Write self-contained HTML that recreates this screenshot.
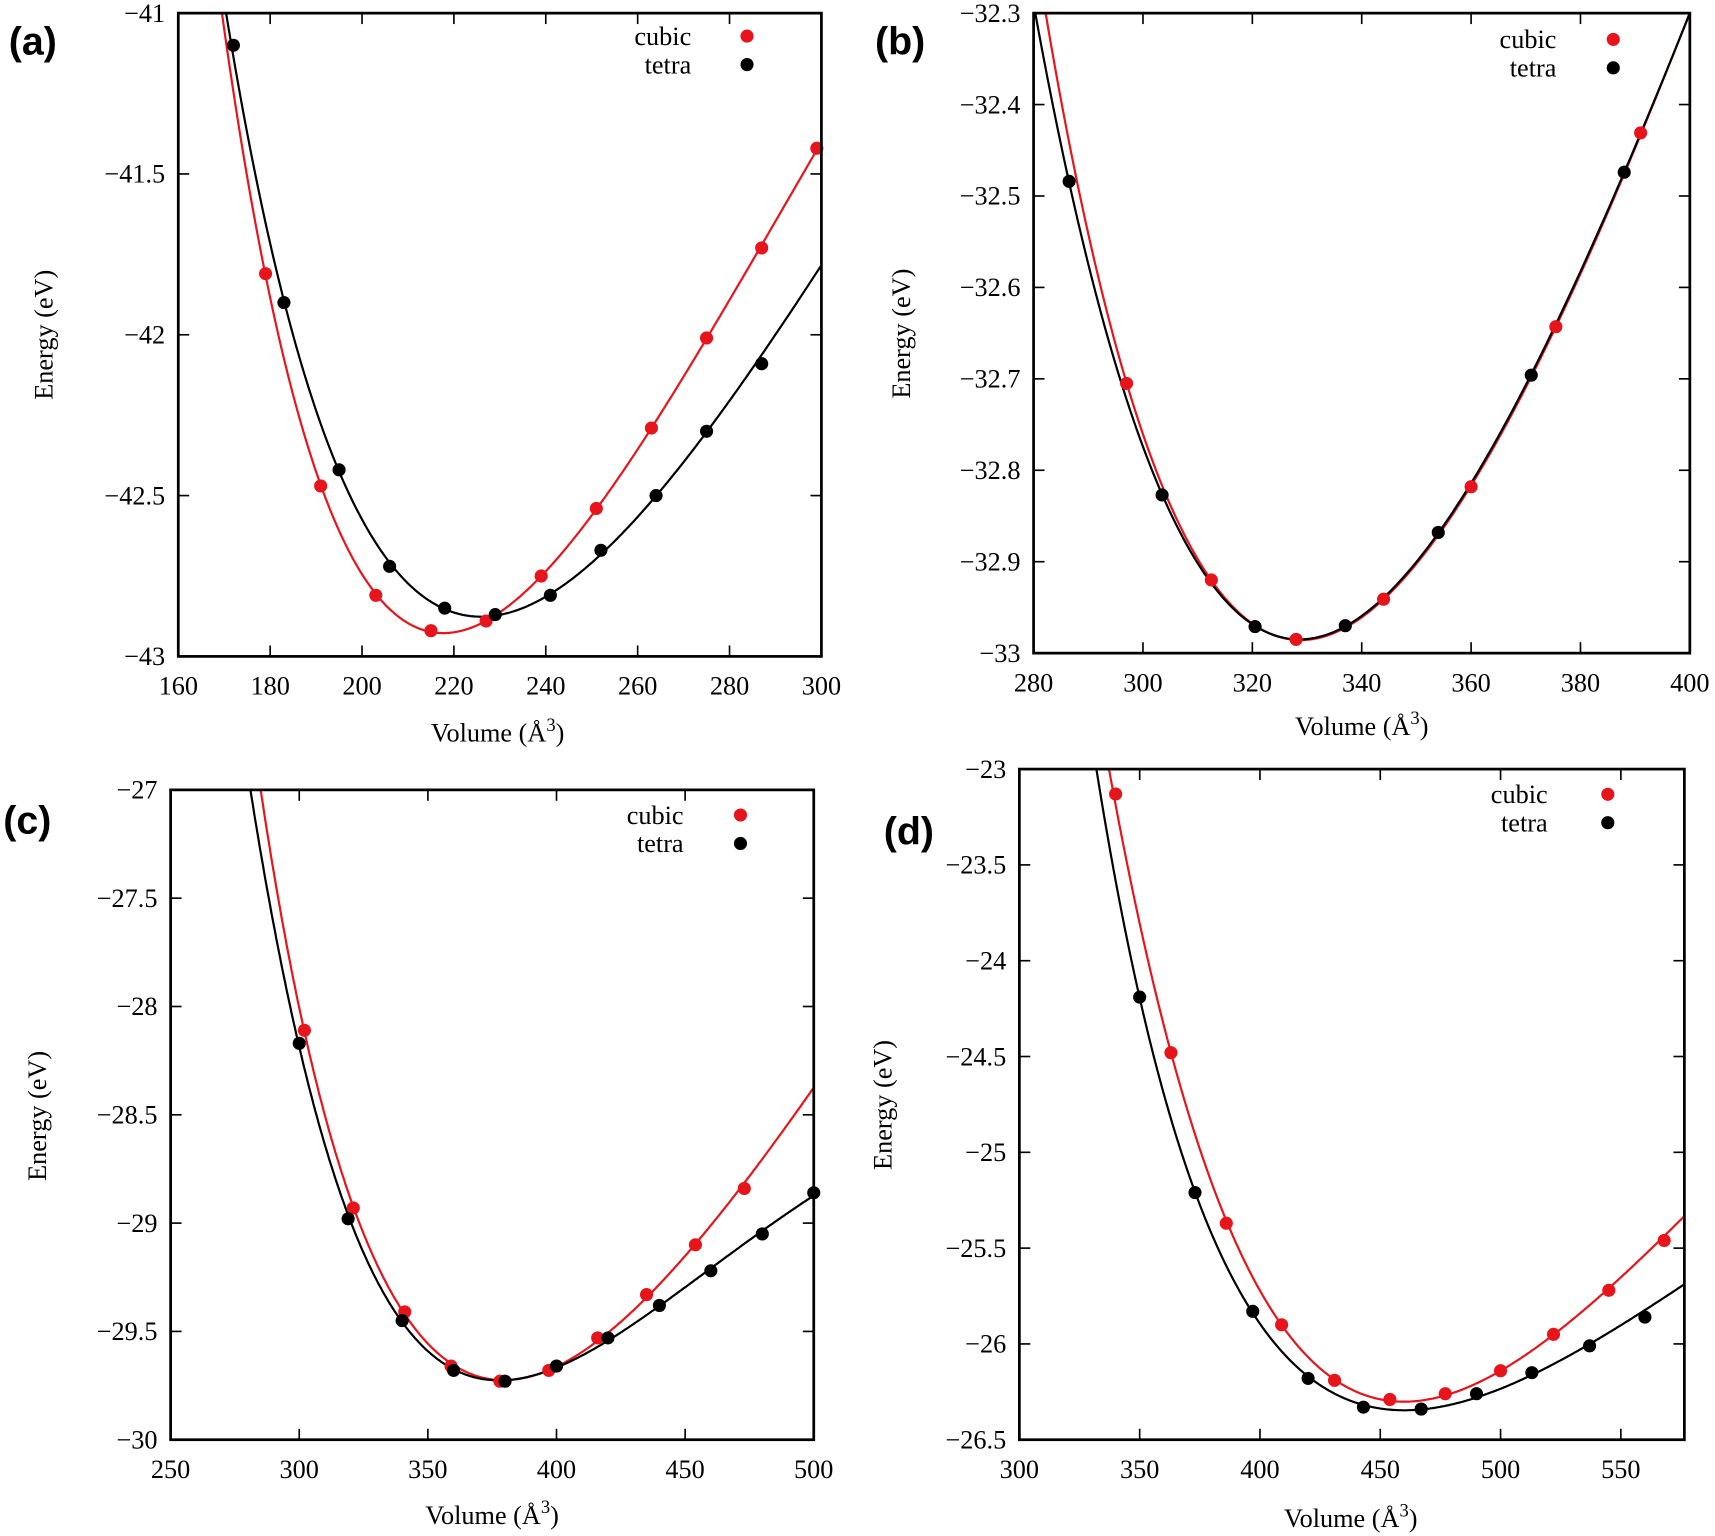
<!DOCTYPE html>
<html><head><meta charset="utf-8">
<style>html,body{margin:0;padding:0;background:#fff;}svg{display:block;}</style>
</head><body>
<svg id="s" xmlns="http://www.w3.org/2000/svg" width="1715" height="1536" viewBox="0 0 1568 1404" preserveAspectRatio="none"></svg>
<script>
const NS="http://www.w3.org/2000/svg";
const svg=document.getElementById('s');
const SERIF="'Liberation Serif', 'Times New Roman', serif";
function el(t,a,txt){const e=document.createElementNS(NS,t);for(const k in a)e.setAttribute(k,a[k]);if(txt!==undefined)e.textContent=txt;svg.appendChild(e);return e;}
function fit(pts,deg){
 const n=deg+1;const xs=pts.map(p=>p[0]);const m=(Math.min(...xs)+Math.max(...xs))/2,r=(Math.max(...xs)-Math.min(...xs))/2;
 const A=[...Array(n)].map(()=>Array(n+1).fill(0));
 for(const p of pts){const w=p[2]||1;const t=(1/p[0]-1/m)*m*m/r;const pw=[];for(let i=0;i<n;i++)pw.push(Math.pow(t,i));
  for(let i=0;i<n;i++){for(let j=0;j<n;j++)A[i][j]+=w*pw[i]*pw[j];A[i][n]+=w*pw[i]*p[1];}}
 for(let i=0;i<n;i++){let mx=i;for(let k=i+1;k<n;k++)if(Math.abs(A[k][i])>Math.abs(A[mx][i]))mx=k;[A[i],A[mx]]=[A[mx],A[i]];
  for(let k=0;k<n;k++)if(k!==i){const f=A[k][i]/A[i][i];for(let j=i;j<=n;j++)A[k][j]-=f*A[i][j];}}
 const c=A.map((row,i)=>row[n]/row[i]);
 return V=>{const t=(1/V-1/m)*m*m/r;let s=0;for(let i=0;i<n;i++)s+=c[i]*Math.pow(t,i);return s;};
}
let cid=0;
function panel(P){
 const {x0,x1,y0,y1,vx0,vx1,ey0,ey1}=P;
 const X=v=>x0+(v-vx0)/(vx1-vx0)*(x1-x0);
 const Y=e=>y0+(e-ey0)/(ey1-ey0)*(y1-y0);
 cid++;
 const cp=el('clipPath',{id:'c'+cid});const rr=document.createElementNS(NS,'rect');
 rr.setAttribute('x',x0);rr.setAttribute('y',y0);rr.setAttribute('width',x1-x0);rr.setAttribute('height',y1-y0);cp.appendChild(rr);
 P.xt.forEach(v=>{const x=X(v);el('line',{x1:x,y1:y1,x2:x,y2:y1-10,stroke:'#000','stroke-width':1.5});el('line',{x1:x,y1:y0,x2:x,y2:y0+10,stroke:'#000','stroke-width':1.5});
  el('text',{x:x,y:y1+35,'text-anchor':'middle','font-family':SERIF,'font-size':24},String(v));});
 P.yt.forEach(e=>{const y=Y(e);el('line',{x1:x0,y1:y,x2:x0+10,y2:y,stroke:'#000','stroke-width':1.5});el('line',{x1:x1,y1:y,x2:x1-10,y2:y,stroke:'#000','stroke-width':1.5});
  el('text',{x:x0-12,y:y+8,'text-anchor':'end','font-family':SERIF,'font-size':24},(e<0?'\u2212':'')+String(Math.abs(e)));});
 for(const s of P.series){
  const f=fit(s.fitpts,s.deg||4);let d='';
  for(let v=s.vs;v<=vx1+1;v+=0.5){const px=X(v),py=Y(f(v));d+=(d?'L':'M')+px.toFixed(1)+','+py.toFixed(1);}
  el('path',{d:d,fill:'none',stroke:s.c,'stroke-width':2,'clip-path':'url(#c'+cid+')'});
 }
 for(const s of P.series){for(const p of s.pts)el('circle',{cx:X(p[0]),cy:Y(p[1]),r:6,fill:s.c});}
 el('rect',{x:x0,y:y0,width:x1-x0,height:y1-y0,fill:'none',stroke:'#000','stroke-width':2.5});
 const L=P.leg;
 el('text',{x:L[0],y:L[1]+8,'text-anchor':'end','font-family':SERIF,'font-size':24},'cubic');
 el('circle',{cx:L[2],cy:L[1],r:6,fill:'#e8141b'});
 el('text',{x:L[0],y:L[1]+34,'text-anchor':'end','font-family':SERIF,'font-size':24},'tetra');
 el('circle',{cx:L[2],cy:L[1]+26,r:6,fill:'#000'});
 el('text',{x:0,y:0,transform:`translate(${P.yl[0]},${P.yl[1]}) rotate(-90)`,'text-anchor':'middle','font-family':SERIF,'font-size':24},'Energy (eV)');
 const t=el('text',{x:P.xl[0],y:P.xl[1],'text-anchor':'middle','font-family':SERIF,'font-size':24},'Volume (\u00C5');
 const ts=document.createElementNS(NS,'tspan');ts.setAttribute('dy','-10');ts.setAttribute('font-size','17');ts.textContent='3';t.appendChild(ts);
 const ts2=document.createElementNS(NS,'tspan');ts2.setAttribute('dy','10');ts2.textContent=')';t.appendChild(ts2);
 el('text',{x:P.pl[0],y:P.pl[1],'font-family':"'Liberation Sans', sans-serif",'font-size':36,'font-weight':'bold'},P.name);
}
const R='#e8141b',K='#000';
function S(c,pts,extra,vs,deg){return {c,pts,fitpts:pts.concat(extra),vs,deg};}
panel({x0:163,x1:751,y0:12,y1:600,vx0:160,vx1:300,ey0:-41,ey1:-43,xt:[160,180,200,220,240,260,280,300],yt:[-41,-41.5,-42,-42.5,-43],
 leg:[632,33,683],yl:[48,306],xl:[455,678],pl:[8,50],name:'(a)',
 series:[S(R,[[179,-41.81],[191,-42.47],[203,-42.81],[215,-42.92],[227,-42.89],[239,-42.75],[251,-42.54],[263,-42.29],[275,-42.01],[287,-41.73],[299,-41.42]],[[169.5,-41.0,3]],166),
  S(K,[[172,-41.1],[183,-41.9],[195,-42.42],[206,-42.72],[218,-42.85],[229,-42.87],[241,-42.81],[252,-42.67],[264,-42.5],[275,-42.3],[287,-42.09]],[[299,-41.8,3],[170.3,-41.0,3]],166)]});
panel({x0:945,x1:1545,y0:12,y1:597,vx0:280,vx1:400,ey0:-32.3,ey1:-33,xt:[280,300,320,340,360,380,400],yt:[-32.3,-32.4,-32.5,-32.6,-32.7,-32.8,-32.9,-33],
 leg:[1423,36,1475],yl:[832,305],xl:[1245,672],pl:[800,50],name:'(b)',
 series:[S(R,[[297,-32.705],[312.5,-32.92],[328,-32.985],[344,-32.941],[360,-32.818],[375.5,-32.643],[391,-32.431]],[[282.2,-32.3,3],[400,-32.3,2]],278),
  S(K,[[286.5,-32.484],[303.5,-32.827],[320.5,-32.971],[337,-32.97],[354,-32.868],[371,-32.696],[388,-32.474]],[[280.3,-32.3,3],[400,-32.3,2]],278)]});
panel({x0:156,x1:744,y0:722,y1:1316,vx0:250,vx1:500,ey0:-27,ey1:-30,xt:[250,300,350,400,450,500],yt:[-27,-27.5,-28,-28.5,-29,-29.5,-30],
 leg:[625,745,677],yl:[42,1020],xl:[450,1393],pl:[3,762],name:'(c)',
 series:[S(R,[[302,-28.11],[321,-28.93],[341,-29.41],[359,-29.66],[378,-29.73],[397,-29.68],[416,-29.53],[435,-29.33],[454,-29.1],[473,-28.84]],[[285,-27,3],[500,-28.37,3]],278),
  S(K,[[300,-28.17],[319,-28.98],[340,-29.45],[360,-29.68],[380,-29.73],[400,-29.66],[420,-29.53],[440,-29.38],[460,-29.22],[480,-29.05],[500,-28.86]],[[281,-27,3]],276)]});
panel({x0:932,x1:1540,y0:703,y1:1316,vx0:300,vx1:576.4,ey0:-23,ey1:-26.5,xt:[300,350,400,450,500,550],yt:[-23,-23.5,-24,-24.5,-25,-25.5,-26,-26.5],
 leg:[1415,726,1470],yl:[815,1010],xl:[1235,1396],pl:[808,772],name:'(d)',
 series:[S(R,[[340,-23.13],[363,-24.48],[386,-25.37],[409,-25.9],[431,-26.19],[454,-26.29],[477,-26.26],[500,-26.14],[522,-25.95],[545,-25.72],[568,-25.46]],[[337,-23,3],[580,-25.28,3]],333),
  S(K,[[350,-24.19],[373,-25.21],[397,-25.83],[420,-26.18],[443,-26.33],[467,-26.34],[490,-26.26],[513,-26.15],[537,-26.01],[560,-25.86]],[[332,-23,3],[580,-25.65,3]],328)]});
</script>
</body></html>
